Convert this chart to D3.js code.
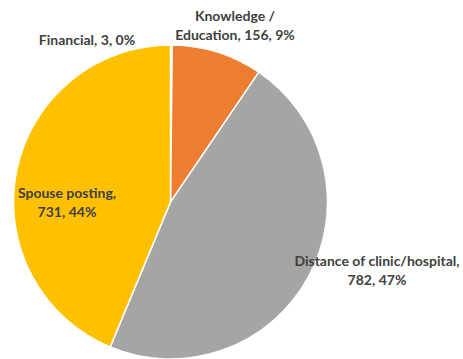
<!DOCTYPE html>
<html>
<head>
<meta charset="utf-8">
<script src="https://cdn.jsdelivr.net/npm/d3@7"></script>
<style>
  html, body { margin: 0; padding: 0; background: #fff; }
  svg text { font-family: Lato, "Open Sans", sans-serif; font-size: 14px; fill: #404040; font-weight: 700; }
</style>
</head>
<body>
<svg id="chart" width="463" height="359"></svg>
<script>
// chart data
const categories = ["Financial", "Knowledge / Education", "Distance of clinic/hospital", "Spouse posting"];
const values = [3, 156, 782, 731];
const percents = ["0%", "9%", "47%", "44%"];
const colors = ["#4472C4", "#ED7D31", "#A5A5A5", "#FFC000"];

// label lines, and where each label block sits (centre x, first baseline y)
const labelLines = [
    ["Financial, 3, 0%"],
    ["Knowledge /", "Education, 156, 9%"],
    ["Distance of clinic/hospital,", "782, 47%"],
    ["Spouse posting,", "731, 44%"]
];
const labelPos = [[87, 45], [235, 21], [377, 266], [67, 198]];

const svg = d3.select("#chart");
const cx = 170.5, cy = 202, radius = 157;

const pie = d3.pie().sort(null).value((d) => d);
const arc = d3.arc().innerRadius(0).outerRadius(radius);

const g = svg.append("g").attr("transform", `translate(${cx},${cy})`);
g.selectAll("path.slice")
    .data(pie(values))
    .enter()
    .append("path")
    .attr("class", "slice")
    .attr("d", arc)
    .attr("fill", (d, i) => colors[i])
    .attr("stroke", "#fff")
    .attr("stroke-width", 1.5);

const labels = svg.append("g").attr("id", "labels");
labelLines.forEach((lines, i) => {
    const t = labels
        .append("text")
        .attr("text-anchor", "middle")
        .attr("x", labelPos[i][0])
        .attr("y", labelPos[i][1]);
    lines.forEach((line, j) => {
        t.append("tspan")
            .attr("x", labelPos[i][0])
            .attr("dy", j === 0 ? 0 : 19)
            .text(line);
    });
});
</script>
</body>
</html>
